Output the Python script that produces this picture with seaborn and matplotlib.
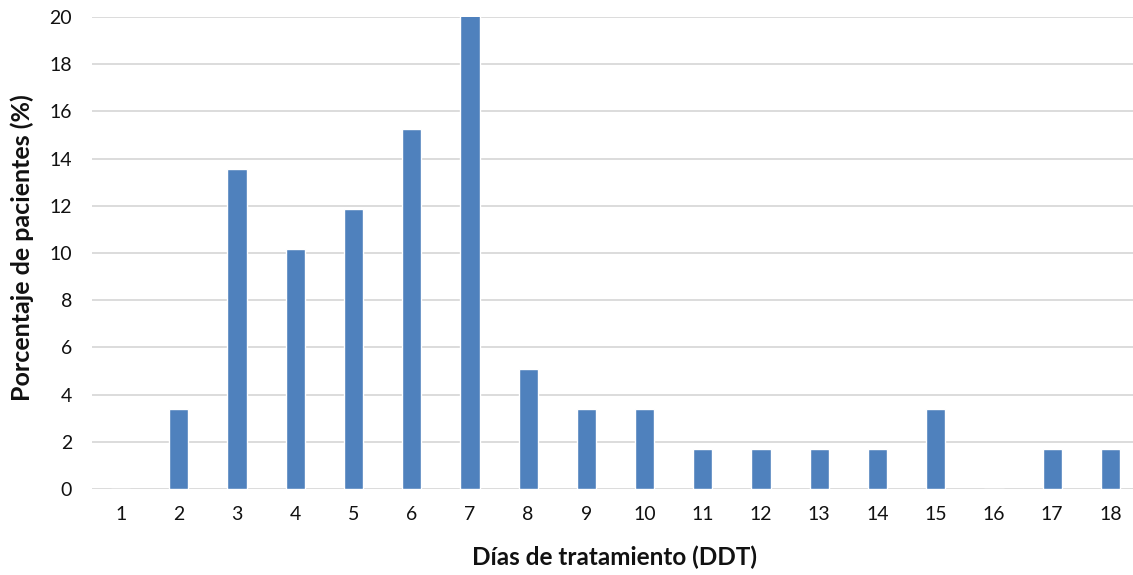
import matplotlib
matplotlib.use("Agg")
import matplotlib.pyplot as plt
import seaborn as sns
import pandas as pd

# Days of treatment and percentage of patients (n = 59)
dias = [str(d) for d in range(1, 19)]
porcentaje = [0, 3.39, 13.56, 10.17, 11.86, 15.25, 20.34, 5.08, 3.39,
              3.39, 1.69, 1.69, 1.69, 1.69, 3.39, 0, 1.69, 1.69]

sns.set_theme(style="white")
plt.rcParams["font.family"] = ["Lato", "DejaVu Sans"]

df = pd.DataFrame({"dias": dias, "pct": porcentaje})

fig = plt.figure(figsize=(11.33, 5.75), dpi=100)
ax = fig.add_axes([91.5 / 1133, 1 - 489 / 575, 1048 / 1133, 472 / 575])

sns.barplot(data=df, x="dias", y="pct", order=dias, color="#4f81bd",
            width=0.33, saturation=1, ax=ax, zorder=3)

ax.set_ylim(0, 20)
ax.set_yticks(range(0, 21, 2))
ax.yaxis.grid(True, color="#d9d9d9", linewidth=1.3, zorder=0)
ax.set_axisbelow(True)
for s in ax.spines.values():
    s.set_visible(False)
ax.tick_params(axis="both", length=0, labelsize=14, colors="#111111")
ax.tick_params(axis="x", pad=12)
ax.tick_params(axis="y", pad=14)

ax.set_xlabel("Días de tratamiento (DDT)", fontsize=17.5, fontweight="bold",
              color="#111111")
ax.set_ylabel("Porcentaje de pacientes (%)", fontsize=18, fontweight="bold",
              color="#111111")
ax.xaxis.set_label_coords(523.5 / 1048, -(557 - 489) / 472)
ax.yaxis.set_label_coords(-(91.5 - 22) / 1048, (489 - 248) / 472)
ax.xaxis.label.set_va("center")
ax.yaxis.label.set_va("center")

fig.savefig("out.png", dpi=100)
